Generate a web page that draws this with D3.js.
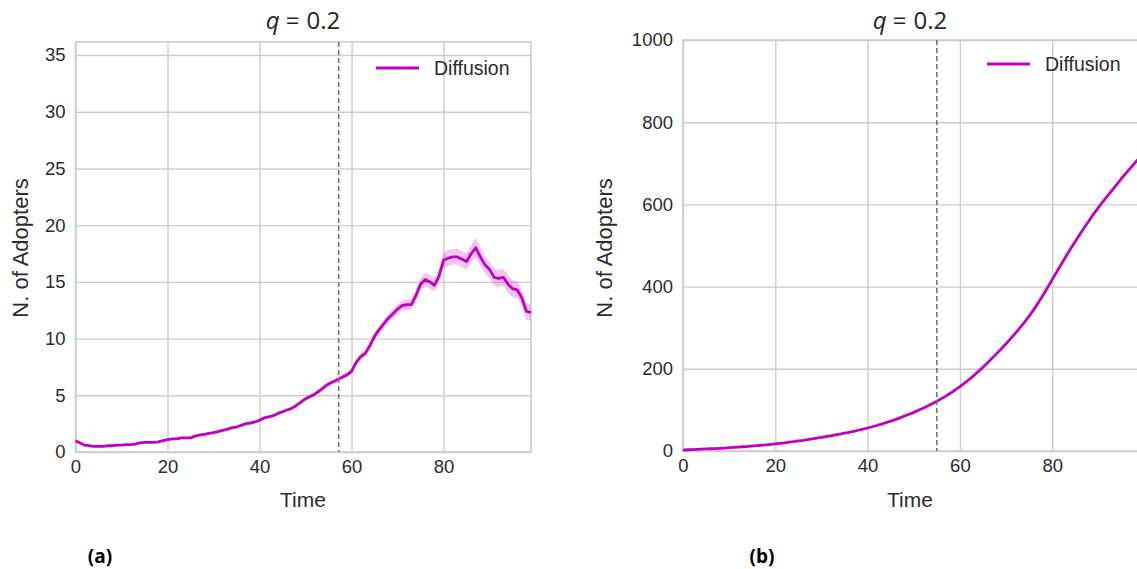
<!DOCTYPE html>
<html>
<head>
<meta charset="utf-8">
<script src="https://cdn.jsdelivr.net/npm/d3@7"></script>
<style>
  body { margin: 0; background: #fff; }
  svg { display: block; }
  .tick text { font-family: "Liberation Sans", Arial, sans-serif; font-size: 18.5px; fill: #2b2b2b; }
  .grid line { stroke: #cccccc; stroke-width: 1.4; }
  .axislabel { font-family: "Liberation Sans", Arial, sans-serif; font-size: 21px; fill: #2b2b2b; }
  .title { font-family: "Open Sans", "Noto Sans", sans-serif; font-size: 24px; fill: #262626; }
  .legend { font-family: "Liberation Sans", Arial, sans-serif; font-size: 19.5px; fill: #2b2b2b; }
  .panel { font-family: "Open Sans", "Noto Sans", sans-serif; font-size: 19px; font-weight: bold; fill: #000; }
</style>
</head>
<body>
<script>
// ---- data ----
const timeSteps = d3.range(0, 100);   // 0..99

// (a) new adopters per step, mean
const adoptersA = [
  1.0, 0.8, 0.6, 0.55, 0.5, 0.5, 0.5, 0.55, 0.55, 0.6,
  0.6, 0.65, 0.65, 0.7, 0.8, 0.85, 0.85, 0.85, 0.9, 1.0,
  1.1, 1.15, 1.15, 1.25, 1.25, 1.25, 1.4, 1.5, 1.55, 1.65,
  1.7, 1.8, 1.9, 2.0, 2.15, 2.2, 2.35, 2.5, 2.55, 2.65,
  2.8, 3.0, 3.1, 3.2, 3.4, 3.55, 3.7, 3.85, 4.1, 4.4,
  4.7, 4.9, 5.1, 5.4, 5.7, 6.0, 6.2, 6.4, 6.6, 6.8,
  7.1, 7.9, 8.4, 8.7, 9.4, 10.2, 10.8, 11.3, 11.8, 12.2,
  12.6, 12.9, 13.0, 13.0, 13.8, 14.8, 15.2, 15.0, 14.7, 15.5,
  16.9, 17.1, 17.2, 17.2, 17.0, 16.8, 17.5, 18.0, 17.2, 16.5,
  16.1, 15.4, 15.3, 15.4, 14.8, 14.4, 14.3, 13.6, 12.4, 12.3
];
// (a) half width of the shaded band
const bandA = [
  0.08, 0.08, 0.08, 0.08, 0.08, 0.08, 0.08, 0.08, 0.08, 0.08,
  0.08, 0.08, 0.08, 0.08, 0.08, 0.08, 0.08, 0.08, 0.08, 0.1,
  0.1, 0.1, 0.1, 0.1, 0.1, 0.1, 0.1, 0.1, 0.1, 0.1,
  0.1, 0.1, 0.1, 0.1, 0.1, 0.1, 0.12, 0.12, 0.12, 0.12,
  0.12, 0.12, 0.12, 0.14, 0.14, 0.14, 0.14, 0.15, 0.15, 0.15,
  0.16, 0.16, 0.17, 0.17, 0.18, 0.18, 0.2, 0.2, 0.2, 0.22,
  0.25, 0.28, 0.3, 0.3, 0.32, 0.35, 0.35, 0.38, 0.4, 0.4,
  0.42, 0.45, 0.45, 0.45, 0.5, 0.55, 0.6, 0.6, 0.6, 0.6,
  0.7, 0.7, 0.7, 0.7, 0.7, 0.7, 0.8, 0.9, 0.8, 0.75,
  0.75, 0.75, 0.75, 0.75, 0.75, 0.75, 0.75, 0.75, 0.75, 0.75
];
// (b) cumulative adopters
const adoptersB = [
  2, 3, 3.5, 4, 4.5, 5, 5.5, 6, 6.5, 7.2,
  8, 8.7, 9.5, 10.3, 11, 12, 13, 14, 15, 16.3,
  17.5, 18.8, 20, 21.5, 23, 24.5, 26, 27.8, 29.5, 31.3,
  33, 35, 37, 39, 41, 43.2, 45.5, 48, 50.5, 53,
  56, 59, 62, 65.5, 69, 72.5, 76.5, 80.5, 85, 89.5,
  94, 99, 104, 109.5, 115, 121, 127.5, 134, 141, 148.5,
  156.5, 165, 174, 183.5, 193.5, 204, 215, 226, 237.5, 249,
  261, 273.5, 286, 299.5, 313.5, 328, 344, 361, 379, 398,
  417, 436, 455, 474, 492, 510, 527.5, 544.5, 561, 577,
  592, 607, 621, 635, 649, 663, 676, 689, 702, 714
];

const xTicks = [0, 20, 40, 60, 80];
const yTicksA = [0, 5, 10, 15, 20, 25, 30, 35];
const yTicksB = [0, 200, 400, 600, 800, 1000];
const cutoffA = 57.2;
const cutoffB = 55;
const seriesName = "Diffusion";

const LINE_COLOR = "#bf00bf";

const svg = d3.select("body").append("svg")
    .attr("width", 1137).attr("height", 569);

function drawPanel(opt) {
    const g = svg.append("g");
    const x = d3.scaleLinear().domain([0, 99]).range([opt.left, opt.right]);
    const y = d3.scaleLinear().domain(opt.yDomain).range([opt.bottom, opt.top]);

    // grid + tick labels
    g.append("g").attr("class", "grid")
        .attr("transform", `translate(0,${opt.bottom})`)
        .call(d3.axisBottom(x).tickValues(xTicks).tickSize(-(opt.bottom - opt.top)).tickPadding(8))
        .call(a => a.select(".domain").remove());
    g.append("g").attr("class", "grid")
        .attr("transform", `translate(${opt.left},0)`)
        .call(d3.axisLeft(y).tickValues(opt.yTicks).tickFormat(d3.format("d"))
            .tickSize(-(opt.right - opt.left)).tickPadding(10))
        .call(a => a.select(".domain").remove());

    // frame
    g.append("rect")
        .attr("x", opt.left).attr("y", opt.top)
        .attr("width", opt.right - opt.left).attr("height", opt.bottom - opt.top)
        .attr("fill", "none").attr("stroke", "#cccccc").attr("stroke-width", 1.6);

    const data = timeSteps.map((t, i) => ({ t: t, v: opt.values[i], h: opt.band ? opt.band[i] : 0 }));

    if (opt.band) {
        g.append("path").datum(data)
            .attr("fill", LINE_COLOR).attr("fill-opacity", 0.22)
            .attr("d", d3.area().x(d => x(d.t)).y0(d => y(d.v - d.h)).y1(d => y(d.v + d.h)));
    }
    g.append("path").datum(data)
        .attr("fill", "none").attr("stroke", LINE_COLOR).attr("stroke-width", 2.8)
        .attr("stroke-linejoin", "round")
        .attr("d", d3.line().x(d => x(d.t)).y(d => y(d.v)));

    // cutoff line
    g.append("line")
        .attr("x1", x(opt.cutoff)).attr("x2", x(opt.cutoff))
        .attr("y1", opt.top).attr("y2", opt.bottom)
        .attr("stroke", "#777").attr("stroke-width", 1.6).attr("stroke-dasharray", "5,3");

    // legend
    g.append("line")
        .attr("x1", opt.legendX).attr("x2", opt.legendX + 43)
        .attr("y1", opt.legendY).attr("y2", opt.legendY)
        .attr("stroke", LINE_COLOR).attr("stroke-width", 2.8);
    g.append("text").attr("class", "legend")
        .attr("x", opt.legendX + 58).attr("y", opt.legendY + 7)
        .text(seriesName);

    // title  (q = 0.2, math style spacing)
    const title = g.append("text").attr("class", "title")
        .attr("x", opt.titleX).attr("y", 29).attr("text-anchor", "middle");
    title.append("tspan").attr("font-style", "italic").text("q");
    title.append("tspan").attr("dx", 6).text("=");
    title.append("tspan").attr("dx", 7).text("0.2");

    // axis labels
    g.append("text").attr("class", "axislabel")
        .attr("x", opt.titleX).attr("y", 507).attr("text-anchor", "middle")
        .text("Time");
    g.append("text").attr("class", "axislabel")
        .style("font-size", "22px")
        .attr("transform", `translate(${opt.ylabelX},248) rotate(-90)`)
        .attr("text-anchor", "middle")
        .text("N. of Adopters");

    g.append("text").attr("class", "panel")
        .attr("x", opt.panelX).attr("y", 563).attr("text-anchor", "middle")
        .text(opt.panel);
}

drawPanel({
    left: 75.5, right: 531, top: 42, bottom: 452,
    yDomain: [0, 36.15], yTicks: yTicksA,
    values: adoptersA, band: bandA, cutoff: cutoffA,
    legendX: 376, legendY: 68, titleX: 303, ylabelX: 28,
    panelX: 100, panel: "(a)"
});

drawPanel({
    left: 683, right: 683 + 99 * 4.615, top: 40, bottom: 451,
    yDomain: [0, 1000], yTicks: yTicksB,
    values: adoptersB, band: null, cutoff: cutoffB,
    legendX: 987, legendY: 64, titleX: 910, ylabelX: 612,
    panelX: 762, panel: "(b)"
});
</script>
</body>
</html>
